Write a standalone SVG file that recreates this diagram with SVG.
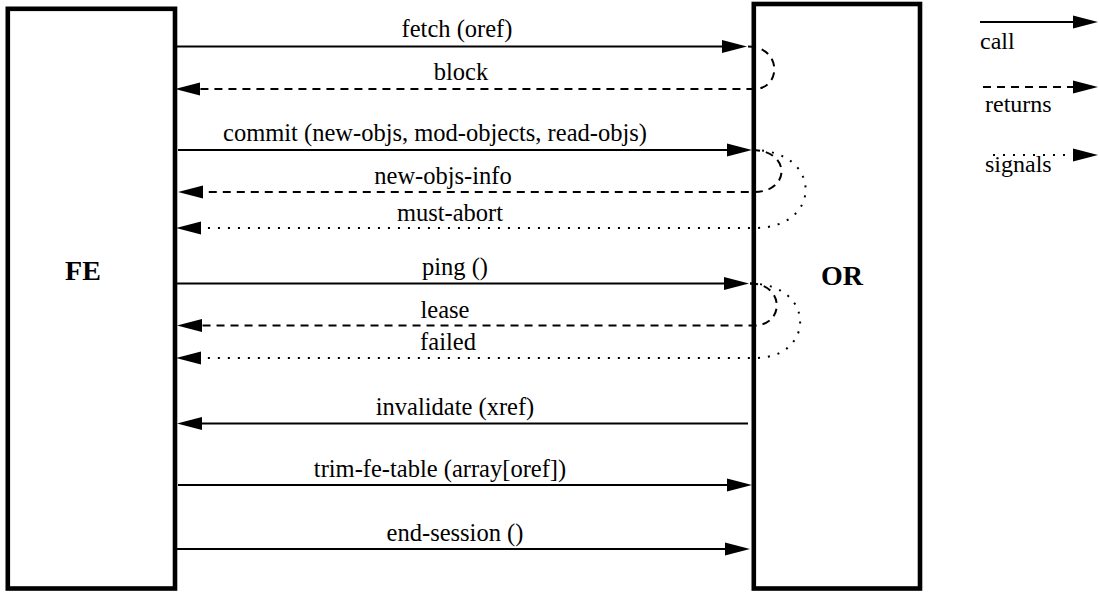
<svg xmlns="http://www.w3.org/2000/svg" width="1099" height="592" viewBox="0 0 1099 592">
  <style>
    .box { fill: #fff; stroke: #000; stroke-width: 4.6; }
    text { font-family: 'Liberation Serif', 'DejaVu Serif', 'Times New Roman', Times, serif; fill: #000; }
    .lbl { font-size: 24.5px; text-anchor: middle; }
    .leg { font-size: 24px; }
    .big { font-size: 28px; font-weight: bold; text-anchor: middle; }
    .call { fill: none; stroke: #000; stroke-width: 2; marker-end: url(#ah); }
    .ret { fill: none; stroke: #000; stroke-width: 2; stroke-dasharray: 8 6; marker-end: url(#ah); }
    .sig { fill: none; stroke: #000; stroke-width: 2; stroke-dasharray: 2 8; marker-end: url(#ah); }
  </style>
  <defs>
    <marker id="ah" markerUnits="userSpaceOnUse" markerWidth="26" markerHeight="14" viewBox="0 -7 26 14" refX="0" refY="0" orient="auto" overflow="visible">
      <path d="M0,-6.5 L25,0 L0,6.5 Z" fill="#000" stroke="none"/>
    </marker>
  </defs>
  <rect width="1099" height="592" fill="#fff"/>

  <g id="FE">
    <rect class="box" x="7.8" y="8.8" width="167.2" height="579.7"/>
    <text class="big" x="83" y="280" font-family="Liberation Serif, serif">FE</text>
  </g>
  <g id="OR">
    <rect class="box" x="753.8" y="4" width="166.2" height="584.5"/>
    <text class="big" x="842" y="285" font-family="Liberation Serif, serif">OR</text>
  </g>

  <g id="connectors">
    <path class="call" d="M175 46.5 L722 46.5"/>
    <path class="ret" d="M748 46.5 C782 46.5 782 89 754 89 L200 89"/>
    <path class="call" d="M178 150 L727 150"/>
    <path class="ret" d="M752 150 C791 150 791 192 754 192 L203 192"/>
    <path class="sig" d="M752 150 C823 150 823 228 755 228 L201 228"/>
    <path class="call" d="M177 283.5 L724 283.5"/>
    <path class="ret" d="M750 283.5 C785 283.5 785 325.5 754 325.5 L202 325.5"/>
    <path class="sig" d="M750 283.5 C816 283.5 816 358 755 358 L201 358"/>
    <path class="call" d="M748 423.5 L202 423.5"/>
    <path class="call" d="M178 485 L727 485"/>
    <path class="call" d="M176 549 L725 549"/>
  </g>

  <g id="labels">
    <text class="lbl" x="457" y="37">fetch (oref)</text>
    <text class="lbl" x="461" y="80">block</text>
    <text class="lbl" x="435" y="141">commit (new-objs, mod-objects, read-objs)</text>
    <text class="lbl" x="443" y="184">new-objs-info</text>
    <text class="lbl" x="450" y="221">must-abort</text>
    <text class="lbl" x="455" y="275">ping ()</text>
    <text class="lbl" x="445" y="318">lease</text>
    <text class="lbl" x="448" y="350">failed</text>
    <text class="lbl" x="455" y="415">invalidate (xref)</text>
    <text class="lbl" x="440" y="477">trim-fe-table (array[oref])</text>
    <text class="lbl" x="455" y="541">end-session ()</text>
  </g>

  <g id="legend">
    <path class="call" d="M980 22 L1073 22"/>
    <text class="leg" x="980" y="49">call</text>
    <path class="ret" d="M983 87 L1073 87"/>
    <text class="leg" x="985" y="112">returns</text>
    <path class="sig" d="M993 155 L1073 155"/>
    <text class="leg" x="985" y="172">signals</text>
  </g>
</svg>
